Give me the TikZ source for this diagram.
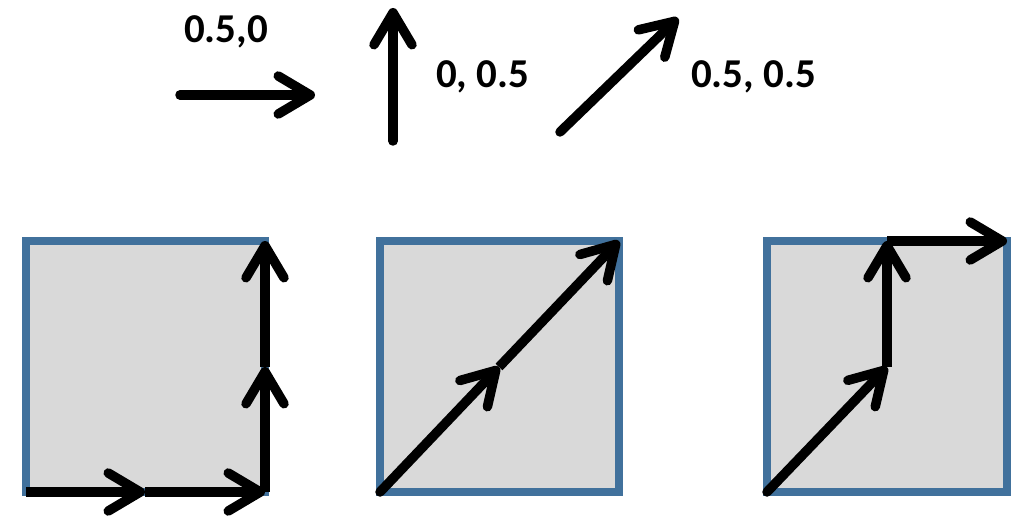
\documentclass[tikz,border=0pt]{standalone}
\usepackage{fontspec}
\setmainfont{Carlito}
\usetikzlibrary{arrows.meta}
\definecolor{boxblue}{RGB}{65,113,156}
\definecolor{boxfill}{RGB}{217,217,217}
\begin{document}
\begin{tikzpicture}[x=1pt,y=-1pt,
  vec/.style={line width=9.5pt, line cap=round, -{Straight Barb[length=32pt,width=38pt,round]}},
  sq/.style={draw=boxblue, fill=boxfill, line width=8pt},
  lbl/.style={font=\fontsize{41}{44}\selectfont\bfseries, inner sep=0pt, anchor=base west}]
\useasboundingbox (0,0) rectangle (1026,516);
% top vectors
\coordinate (h0) at (180,95);  \coordinate (h1) at (315,95);
\coordinate (v0) at (393,141); \coordinate (v1) at (393,8);
\coordinate (d0) at (560,132); \coordinate (d1) at (678,18);
\draw[vec] (h0) -- (h1);
\draw[vec] (v0) -- (v1);
\draw[vec] (d0) -- (d1);
\node[lbl] (lh) at (184,43) {0.5,0};
\node[lbl] (lv) at (436,88) {0, 0.5};
\node[lbl] (ld) at (691,88) {0.5, 0.5};
% squares
\draw[sq] (26,241) rectangle (265,492);
\draw[sq] (380,241) rectangle (619,492);
\draw[sq] (767,241) rectangle (1007,492);
% square 1 path
\coordinate (a0) at (26,492); \coordinate (a1) at (145,492); \coordinate (a2) at (265,492);
\coordinate (a3) at (265,367); \coordinate (a4) at (265,241);
\draw[vec, line cap=butt] (a0) -- (a1);
\draw[vec, line cap=butt] (a1) -- (a2);
\draw[vec, line cap=butt] (a2) -- (a3);
\draw[vec, line cap=butt] (a3) -- (a4);
% square 2 path
\coordinate (b0) at (380,492); \coordinate (b1) at (499,367); \coordinate (b2) at (619,241);
\draw[vec] (b0) -- (b1);
\draw[vec, line cap=butt] (b1) -- (b2);
% square 3 path
\coordinate (c0) at (767,492); \coordinate (c1) at (887,367); \coordinate (c2) at (887,241); \coordinate (c3) at (1007,241);
\draw[vec] (c0) -- (c1);
\draw[vec, line cap=butt] (c1) -- (c2);
\draw[vec, line cap=butt] (c2) -- (c3);
\end{tikzpicture}
\end{document}
